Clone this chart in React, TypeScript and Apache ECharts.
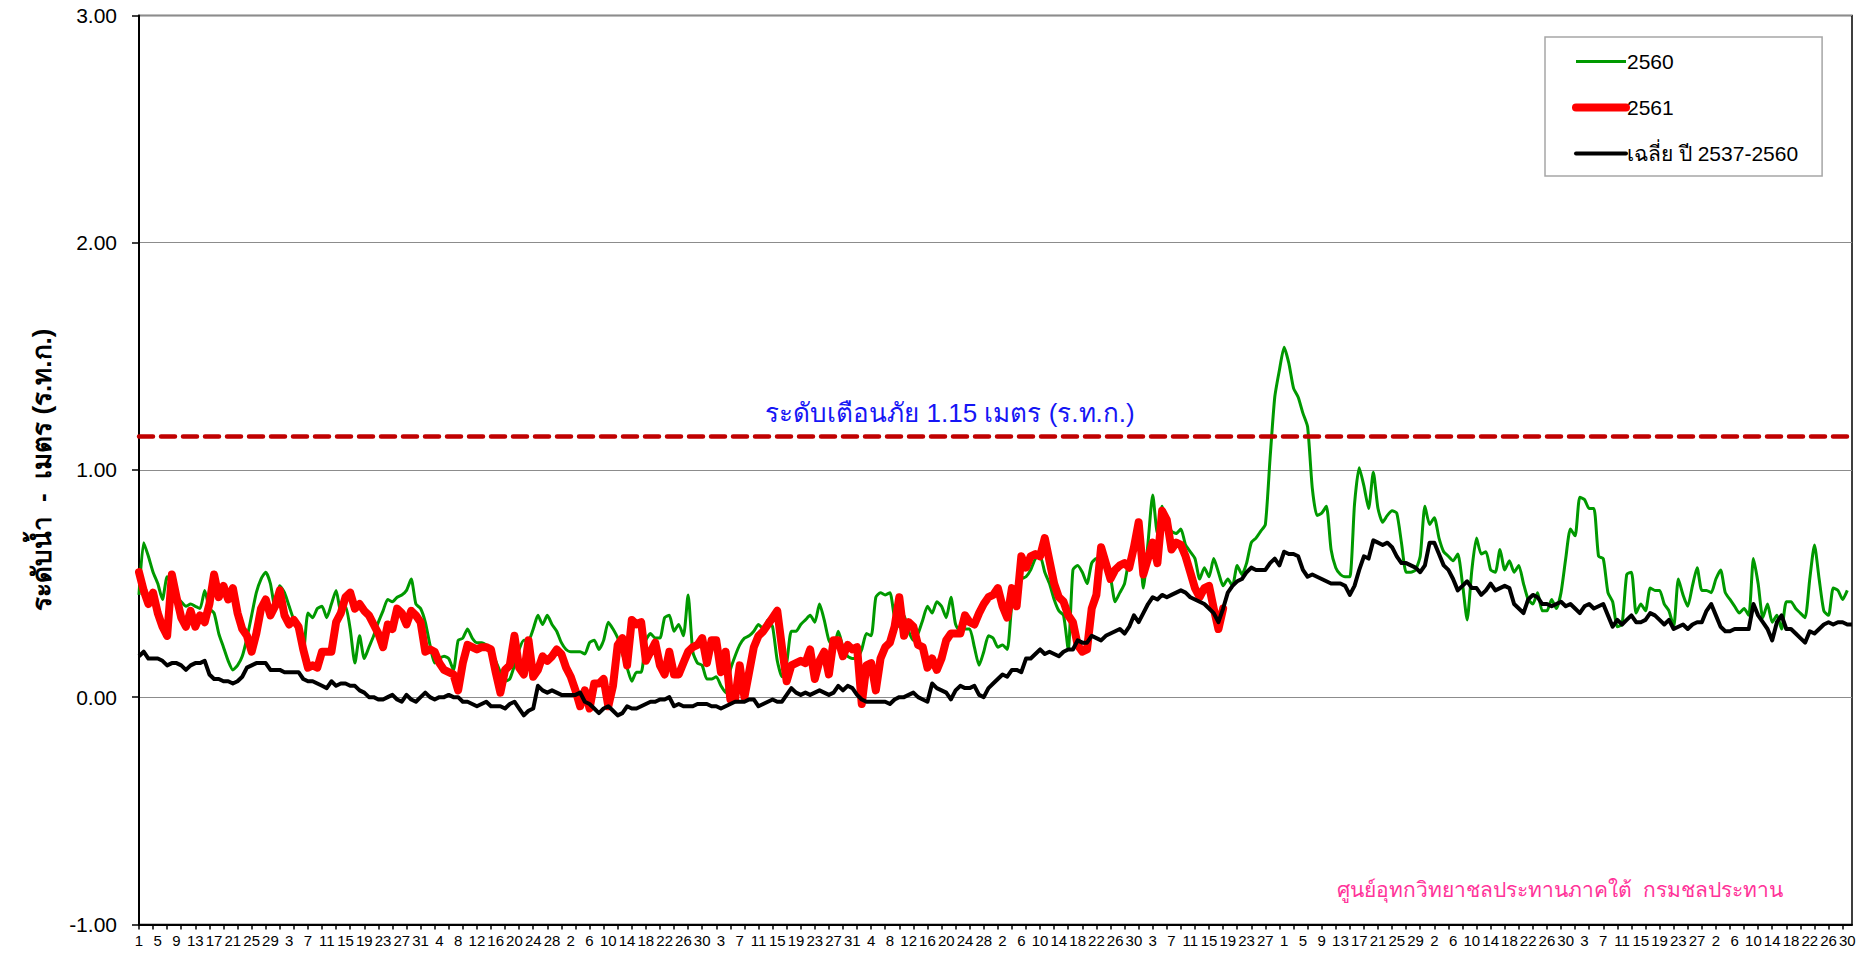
import React, { useEffect, useRef } from "react";
import * as echarts from "echarts";

// Water year months (Apr..Mar), days in each month
const monthLengths = [30, 31, 30, 31, 31, 30, 31, 30, 31, 31, 29, 31];
const dayLabels: string[] = [];
monthLengths.forEach((n) => {
  for (let i = 1; i <= n; i++) dayLabels.push(String(i));
});

const yTicks = { min: -1, max: 3, interval: 1 };
const WARN_LEVEL = 1.15;
const warnText = "ระดับเตือนภัย 1.15 เมตร (ร.ท.ก.)";
const creditText = "ศูนย์อุทกวิทยาชลประทานภาคใต้  กรมชลประทาน";
const yAxisTitle = "ระดับน้ำ  -  เมตร (ร.ท.ก.)";
const seriesNames = ["2560", "2561", "เฉลี่ย ปี 2537-2560"];

// 2560 (green)
const y2560 = [
  0.45, 0.68, 0.62, 0.55, 0.50, 0.43, 0.53, 0.49, 0.44, 0.42,
  0.40, 0.41, 0.40, 0.39, 0.47, 0.39, 0.37, 0.28, 0.22, 0.16,
  0.12, 0.14, 0.18, 0.26, 0.36, 0.46, 0.52, 0.55, 0.50, 0.39,
  0.49, 0.46, 0.40, 0.34, 0.31, 0.19, 0.37, 0.35, 0.39, 0.40,
  0.35, 0.41, 0.47, 0.38, 0.40, 0.30, 0.15, 0.27, 0.17, 0.22,
  0.27, 0.33, 0.38, 0.43, 0.42, 0.44, 0.45, 0.47, 0.52, 0.41,
  0.39, 0.33, 0.23, 0.15, 0.17, 0.18, 0.17, 0.12, 0.25, 0.26,
  0.30, 0.26, 0.24, 0.24, 0.23, 0.20, 0.16, 0.11, 0.07, 0.08,
  0.14, 0.21, 0.25, 0.25, 0.30, 0.36, 0.32, 0.36, 0.32, 0.29,
  0.24, 0.21, 0.20, 0.20, 0.20, 0.19, 0.24, 0.25, 0.21, 0.25,
  0.33, 0.30, 0.26, 0.19, 0.13, 0.07, 0.11, 0.11, 0.25, 0.28,
  0.26, 0.26, 0.35, 0.36, 0.29, 0.32, 0.27, 0.45, 0.20, 0.15,
  0.14, 0.08, 0.08, 0.09, 0.05, 0.02, 0.12, 0.18, 0.23, 0.26,
  0.27, 0.29, 0.32, 0.30, 0.34, 0.31, 0.16, 0.09, 0.15, 0.29,
  0.29, 0.32, 0.34, 0.36, 0.33, 0.41, 0.34, 0.25, 0.22, 0.29,
  0.22, 0.18, 0.17, 0.17, 0.21, 0.28, 0.27, 0.44, 0.46, 0.45,
  0.46, 0.35, 0.31, 0.36, 0.29, 0.25, 0.28, 0.34, 0.40, 0.37,
  0.42, 0.40, 0.35, 0.44, 0.32, 0.29, 0.30, 0.30, 0.22, 0.14,
  0.20, 0.27, 0.26, 0.22, 0.23, 0.21, 0.41, 0.47, 0.52, 0.53,
  0.56, 0.61, 0.62, 0.55, 0.50, 0.43, 0.38, 0.36, 0.21, 0.56,
  0.58, 0.55, 0.50, 0.59, 0.61, 0.60, 0.61, 0.53, 0.42, 0.46,
  0.50, 0.61, 0.65, 0.68, 0.48, 0.68, 0.89, 0.72, 0.84, 0.77,
  0.73, 0.72, 0.74, 0.67, 0.64, 0.61, 0.52, 0.57, 0.53, 0.61,
  0.55, 0.49, 0.52, 0.49, 0.58, 0.54, 0.59, 0.68, 0.70, 0.73,
  0.76, 1.05, 1.32, 1.44, 1.54, 1.47, 1.36, 1.32, 1.25, 1.19,
  0.92, 0.80, 0.81, 0.84, 0.65, 0.57, 0.54, 0.53, 0.53, 0.85,
  1.01, 0.93, 0.83, 0.99, 0.83, 0.77, 0.80, 0.82, 0.81, 0.68,
  0.55, 0.55, 0.56, 0.62, 0.84, 0.76, 0.79, 0.70, 0.64, 0.62,
  0.60, 0.63, 0.50, 0.34, 0.56, 0.70, 0.63, 0.64, 0.56, 0.55,
  0.65, 0.56, 0.60, 0.55, 0.58, 0.50, 0.43, 0.41, 0.46, 0.38,
  0.38, 0.43, 0.39, 0.46, 0.61, 0.74, 0.71, 0.88, 0.87, 0.83,
  0.83, 0.62, 0.61, 0.46, 0.42, 0.31, 0.32, 0.54, 0.55, 0.37,
  0.41, 0.38, 0.48, 0.47, 0.47, 0.41, 0.38, 0.31, 0.52, 0.45,
  0.40, 0.49, 0.57, 0.47, 0.47, 0.46, 0.52, 0.56, 0.46, 0.43,
  0.40, 0.37, 0.39, 0.36, 0.61, 0.50, 0.35, 0.41, 0.33, 0.36,
  0.30, 0.42, 0.42, 0.39, 0.37, 0.35, 0.52, 0.67, 0.52, 0.38,
  0.36, 0.48, 0.47, 0.43, 0.47,
];

// 2561 (red) — recorded up to mid November
const y2561 = [
  0.55, 0.47, 0.41, 0.46, 0.37, 0.31, 0.27, 0.54, 0.44, 0.35,
  0.31, 0.38, 0.31, 0.36, 0.33, 0.41, 0.54, 0.44, 0.49, 0.43,
  0.48, 0.37, 0.30, 0.27, 0.20, 0.28, 0.39, 0.43, 0.36, 0.40,
  0.47, 0.36, 0.32, 0.34, 0.31, 0.21, 0.13, 0.14, 0.13, 0.20,
  0.20, 0.20, 0.33, 0.37, 0.44, 0.46, 0.39, 0.41, 0.38, 0.36,
  0.32, 0.28, 0.22, 0.32, 0.30, 0.39, 0.37, 0.32, 0.38, 0.36,
  0.33, 0.20, 0.21, 0.20, 0.15, 0.12, 0.11, 0.10, 0.03, 0.15,
  0.23, 0.22, 0.21, 0.22, 0.22, 0.21, 0.11, 0.02, 0.12, 0.14,
  0.27, 0.13, 0.10, 0.25, 0.09, 0.12, 0.18, 0.16, 0.18, 0.21,
  0.19, 0.13, 0.09, 0.03, -0.04, 0.03, -0.05, 0.06, 0.06, 0.08,
  -0.04, 0.05, 0.23, 0.26, 0.14, 0.34, 0.32, 0.33, 0.16, 0.20,
  0.24, 0.14, 0.10, 0.20, 0.10, 0.10, 0.15, 0.20, 0.22, 0.23,
  0.26, 0.15, 0.25, 0.25, 0.11, 0.20, -0.01, -0.01, 0.14, 0.00,
  0.11, 0.22, 0.27, 0.29, 0.32, 0.35, 0.38, 0.22, 0.07, 0.14,
  0.15, 0.16, 0.15, 0.21, 0.08, 0.16, 0.20, 0.10, 0.25, 0.25,
  0.18, 0.23, 0.21, 0.22, -0.03, 0.14, 0.15, 0.03, 0.17, 0.22,
  0.24, 0.31, 0.44, 0.27, 0.33, 0.31, 0.23, 0.22, 0.13, 0.17,
  0.12, 0.17, 0.25, 0.28, 0.28, 0.28, 0.36, 0.33, 0.32, 0.37,
  0.41, 0.44, 0.45, 0.48, 0.40, 0.35, 0.48, 0.40, 0.62, 0.57,
  0.62, 0.63, 0.62, 0.70, 0.60, 0.50, 0.44, 0.42, 0.36, 0.33,
  0.23, 0.20, 0.21, 0.39, 0.45, 0.66, 0.59, 0.52, 0.56, 0.58,
  0.59, 0.57, 0.66, 0.77, 0.54, 0.61, 0.68, 0.59, 0.82, 0.78,
  0.65, 0.68, 0.67, 0.62, 0.55, 0.48, 0.44, 0.48, 0.49, 0.39,
  0.30, 0.39,
];

// Average 2537-2560 (black)
const yAvg = [
  0.18, 0.20, 0.17, 0.17, 0.17, 0.16, 0.14, 0.15, 0.15, 0.14,
  0.12, 0.14, 0.15, 0.15, 0.16, 0.10, 0.08, 0.08, 0.07, 0.07,
  0.06, 0.07, 0.09, 0.13, 0.14, 0.15, 0.15, 0.15, 0.12, 0.12,
  0.12, 0.11, 0.11, 0.11, 0.11, 0.08, 0.07, 0.07, 0.06, 0.05,
  0.04, 0.07, 0.05, 0.06, 0.06, 0.05, 0.05, 0.03, 0.02, 0.00,
  0.00, -0.01, -0.01, 0.00, 0.01, -0.01, -0.02, 0.01, -0.01, -0.02,
  0.00, 0.02, 0.00, -0.01, 0.00, 0.00, 0.01, 0.00, 0.00, -0.02,
  -0.02, -0.03, -0.04, -0.03, -0.02, -0.04, -0.04, -0.04, -0.05, -0.03,
  -0.02, -0.05, -0.08, -0.06, -0.05, 0.05, 0.03, 0.02, 0.03, 0.02,
  0.01, 0.01, 0.01, 0.01, 0.02, -0.02, -0.03, -0.05, -0.07, -0.05,
  -0.04, -0.06, -0.08, -0.07, -0.04, -0.05, -0.05, -0.04, -0.03, -0.02,
  -0.02, -0.01, -0.01, 0.00, -0.04, -0.03, -0.04, -0.04, -0.04, -0.03,
  -0.03, -0.03, -0.04, -0.04, -0.05, -0.04, -0.03, -0.02, -0.02, -0.02,
  -0.01, -0.01, -0.04, -0.03, -0.02, -0.01, -0.02, -0.02, 0.01, 0.04,
  0.02, 0.01, 0.02, 0.01, 0.02, 0.03, 0.02, 0.01, 0.02, 0.05,
  0.03, 0.05, 0.04, 0.01, -0.01, -0.02, -0.02, -0.02, -0.02, -0.02,
  -0.03, -0.01, 0.00, 0.00, 0.01, 0.02, 0.00, -0.01, -0.02, 0.06,
  0.04, 0.03, 0.02, -0.01, 0.03, 0.05, 0.04, 0.04, 0.05, 0.01,
  0.00, 0.04, 0.06, 0.08, 0.10, 0.09, 0.12, 0.12, 0.11, 0.17,
  0.17, 0.19, 0.21, 0.19, 0.20, 0.19, 0.18, 0.20, 0.21, 0.21,
  0.25, 0.24, 0.24, 0.27, 0.26, 0.25, 0.27, 0.28, 0.29, 0.30,
  0.28, 0.31, 0.36, 0.33, 0.37, 0.41, 0.44, 0.43, 0.45, 0.44,
  0.45, 0.46, 0.47, 0.46, 0.44, 0.43, 0.42, 0.41, 0.39, 0.37,
  0.33, 0.39, 0.46, 0.49, 0.51, 0.52, 0.55, 0.57, 0.56, 0.56,
  0.56, 0.59, 0.61, 0.58, 0.64, 0.63, 0.63, 0.62, 0.56, 0.53,
  0.54, 0.53, 0.52, 0.51, 0.50, 0.50, 0.50, 0.49, 0.45, 0.49,
  0.56, 0.62, 0.61, 0.69, 0.68, 0.67, 0.68, 0.66, 0.62, 0.59,
  0.59, 0.58, 0.57, 0.55, 0.58, 0.68, 0.68, 0.63, 0.58, 0.56,
  0.52, 0.47, 0.49, 0.51, 0.48, 0.48, 0.45, 0.47, 0.50, 0.47,
  0.48, 0.49, 0.48, 0.41, 0.39, 0.37, 0.43, 0.45, 0.44, 0.41,
  0.41, 0.40, 0.41, 0.42, 0.40, 0.41, 0.39, 0.37, 0.40, 0.41,
  0.39, 0.40, 0.41, 0.36, 0.31, 0.34, 0.32, 0.34, 0.36, 0.33,
  0.33, 0.34, 0.37, 0.36, 0.34, 0.32, 0.34, 0.30, 0.31, 0.32,
  0.30, 0.32, 0.33, 0.33, 0.38, 0.41, 0.36, 0.31, 0.29, 0.29,
  0.30, 0.30, 0.30, 0.30, 0.41, 0.36, 0.33, 0.30, 0.25, 0.33,
  0.36, 0.30, 0.30, 0.28, 0.26, 0.24, 0.29, 0.28, 0.30, 0.32,
  0.33, 0.32, 0.33, 0.33, 0.32, 0.32,
];

const FONT = "Tahoma, 'Liberation Sans', 'DejaVu Sans', sans-serif";
const HIDDEN_SYMBOL = { color: "rgba(0,0,0,0)", borderWidth: 0, opacity: 0 };

export default function App() {
  const ref = useRef<HTMLDivElement>(null);
  useEffect(() => {
    if (!ref.current) return;
    const chart = echarts.init(ref.current, undefined, { renderer: "svg" });
    const option: any = {
      animation: false,
      backgroundColor: "#ffffff",
      textStyle: { fontFamily: FONT },
      grid: {
        left: 139,
        right: 15,
        top: 15.5,
        bottom: 28.6,
        show: true,
        borderColor: "#000000",
        borderWidth: 1.5,
        containLabel: false,
      },
      legend: {
        orient: "vertical",
        left: 1545,
        top: 37,
        padding: [14, 24, 12, 27],
        itemWidth: 50,
        itemHeight: 22,
        itemGap: 25,
        borderColor: "#A6A6A6",
        borderWidth: 1.5,
        backgroundColor: "#ffffff",
        textStyle: { fontFamily: FONT, fontSize: 21, color: "#000000", padding: [0, 0, 0, -4] },
        data: [
          { name: seriesNames[0], itemStyle: HIDDEN_SYMBOL, lineStyle: { width: 3, color: "#009900" } },
          { name: seriesNames[1], itemStyle: HIDDEN_SYMBOL, lineStyle: { width: 8, color: "#FF0000", cap: "round" } },
          { name: seriesNames[2], itemStyle: HIDDEN_SYMBOL, lineStyle: { width: 4, color: "#000000", cap: "round" } },
        ],
      },
      xAxis: {
        type: "category",
        data: dayLabels,
        boundaryGap: false,
        axisLine: { show: true, onZero: false, lineStyle: { color: "#000000", width: 2 } },
        axisTick: { show: true, interval: 2, length: 5, lineStyle: { color: "#000000", width: 1.5 } },
        axisLabel: {
          interval: 3,
          fontSize: 15,
          color: "#000000",
          margin: 9,
          fontFamily: FONT,
        },
        splitLine: { show: false },
      },
      yAxis: {
        type: "value",
        min: yTicks.min,
        max: yTicks.max,
        interval: yTicks.interval,
        name: yAxisTitle,
        nameLocation: "middle",
        nameGap: 84,
        nameTextStyle: { fontSize: 26, fontWeight: "bold", color: "#000000", fontFamily: FONT },
        axisLine: { show: true, onZero: false, lineStyle: { color: "#000000", width: 2 } },
        axisTick: { show: true, length: 7, lineStyle: { color: "#000000", width: 1.5 } },
        axisLabel: {
          formatter: (v: number) => v.toFixed(2),
          fontSize: 21,
          color: "#000000",
          margin: 22,
          fontFamily: FONT,
        },
        splitLine: { show: true, lineStyle: { color: "#8C8C8C", width: 1.2 } },
      },
      series: [
        {
          name: seriesNames[0],
          type: "line",
          data: y2560,
          symbol: "none",
          smooth: 0.2,
          lineStyle: { color: "#009900", width: 3 },
          itemStyle: { color: "#009900" },
          z: 2,
        },
        {
          name: seriesNames[1],
          type: "line",
          data: y2561,
          symbol: "none",
          lineStyle: { color: "#FF0000", width: 8, join: "round", cap: "round" },
          itemStyle: { color: "#FF0000" },
          z: 3,
        },
        {
          name: seriesNames[2],
          type: "line",
          data: yAvg,
          symbol: "none",
          lineStyle: { color: "#000000", width: 4, join: "round" },
          itemStyle: { color: "#000000" },
          z: 4,
          markLine: {
            silent: true,
            symbol: "none",
            label: { show: false },
            lineStyle: { color: "#C00000", width: 4.5, type: [14, 8], cap: "round" },
            data: [{ yAxis: WARN_LEVEL }],
          },
        },
      ],
      graphic: [
        {
          type: "text",
          x: 950,
          y: 413,
          style: {
            text: warnText,
            fill: "#1515F5",
            font: `26px ${FONT}`,
            textAlign: "center",
            textVerticalAlign: "middle",
          },
        },
        {
          type: "text",
          x: 1560,
          y: 889,
          style: {
            text: creditText,
            fill: "#FF3399",
            font: `21px ${FONT}`,
            textAlign: "center",
            textVerticalAlign: "middle",
          },
        },
      ],
    };
    chart.setOption(option);
    return () => chart.dispose();
  }, []);
  return (
    <div
      ref={ref}
      style={{ position: "fixed", left: 0, top: 0, width: 1867, height: 953, background: "#fff" }}
    />
  );
}
